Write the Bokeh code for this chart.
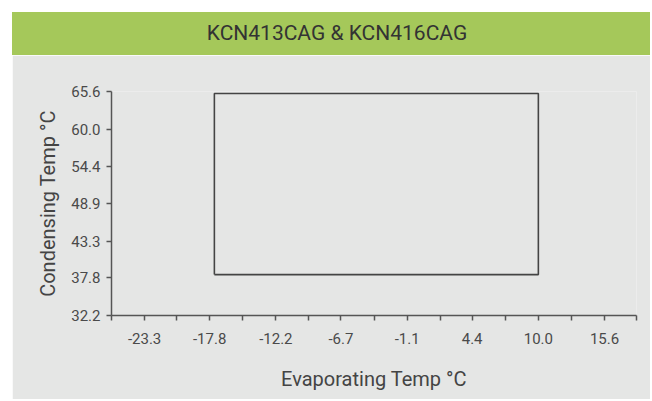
from bokeh.plotting import figure
from bokeh.models import FixedTicker, PrintfTickFormatter, Div, Range1d
from bokeh.layouts import column
from bokeh.embed import file_html
from bokeh.resources import INLINE

# ---- data ----
title_text = "KCN413CAG & KCN416CAG"
x_label = "Evaporating Temp °C"
y_label = "Condensing Temp °C"

x_major = [-23.3, -17.8, -12.2, -6.7, -1.1, 4.4, 10.0, 15.6]
x_minor = [-26.1, -20.6, -15.0, -9.4, -3.9, 1.7, 7.2, 12.8, 18.3]
y_major = [32.2, 37.8, 43.3, 48.9, 54.4, 60.0, 65.6]
x_min, x_max = -26.1, 18.3
y_min, y_max = 32.2, 65.6

# operating envelope (evaporating, condensing)
env_evap = [-17.4, 10.0, 10.0, -17.4, -17.4]
env_cond = [38.3, 38.3, 65.3, 65.3, 38.3]

GREEN = "#a5c85a"
GRAY = "#e5e6e5"
AX = "#555555"
FONT = "Roboto"

W = 638

header = Div(
    text=title_text,
    width=W, height=43,
    margin=(12, 0, 0, 12),
    styles={
        "background-color": GREEN,
        "color": "#333333",
        "font-family": FONT,
        "font-size": "21px",
        "line-height": "43px",
        "text-align": "center",
        "text-indent": "12px",
    },
)

p = figure(
    width=W, height=344,
    output_backend="svg", toolbar_location=None,
    x_range=Range1d(x_min, x_max), y_range=Range1d(y_min, y_max),
    min_border_left=99, min_border_right=W - 99 - 525, min_border_top=36,
    min_border_bottom=344 - 36 - 224,
    margin=(0, 0, 0, 12),
)
p.background_fill_color = GRAY
p.border_fill_color = GRAY
p.outline_line_color = None
p.grid.visible = False

p.line(env_evap, env_cond, line_color="#444444", line_width=1.6)

xa = p.xaxis[0]
xa.ticker = FixedTicker(ticks=x_major, minor_ticks=x_minor)
xa.formatter = PrintfTickFormatter(format="%.1f")
xa.axis_label = x_label
ya = p.yaxis[0]
ya.ticker = FixedTicker(ticks=y_major)
ya.formatter = PrintfTickFormatter(format="%.1f")
ya.axis_label = y_label

for ax in (xa, ya):
    ax.axis_line_color = AX
    ax.axis_line_width = 1.5
    ax.major_tick_line_color = AX
    ax.minor_tick_line_color = AX
    ax.major_tick_line_width = 1.5
    ax.minor_tick_line_width = 1.5
    ax.major_tick_out = 5
    ax.major_tick_in = 0
    ax.minor_tick_out = 5
    ax.minor_tick_in = 0
    ax.major_label_text_font = FONT
    ax.major_label_text_font_size = "15px"
    ax.major_label_text_color = "#4a4a4a"
    ax.axis_label_text_font = FONT
    ax.axis_label_text_font_size = "20px"
    ax.axis_label_text_font_style = "normal"
    ax.axis_label_text_color = "#444444"

xa.major_label_standoff = 12
xa.axis_label_standoff = 20
ya.major_label_standoff = 6
ya.axis_label_standoff = 8

layout = column(header, p, spacing=0)
open("out.html", "w").write(file_html(layout, INLINE))
